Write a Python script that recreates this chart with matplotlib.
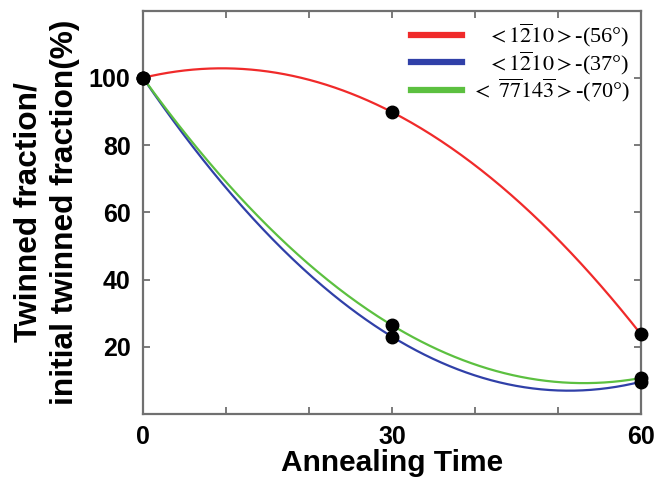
import numpy as np
import matplotlib
matplotlib.use("Agg")
import matplotlib.pyplot as plt
from matplotlib.lines import Line2D

# ---- data ----
time_pts = [0, 30, 60]
red_vals = [100, 89.8, 23.7]
blue_vals = [100, 23.0, 9.6]
green_vals = [100, 26.4, 10.7]
labels = [r'$\quad<1\overline{2}10>$-(56°)',
          r'$\quad<1\overline{2}10>$-(37°)',
          r'$<\ \overline{7}\overline{7}14\overline{3}>$-(70°)']
colors = ['#f02a2a', '#3040a8', '#5cc040']
xticks_major = [0, 30, 60]
xticks_minor = [10, 20, 40, 50]
yticks = [20, 40, 60, 80, 100]

plt.rcParams['font.family'] = ['Liberation Sans', 'DejaVu Sans']
plt.rcParams['mathtext.fontset'] = 'stix'

fig = plt.figure(figsize=(6.57, 4.8), dpi=100)
ax = fig.add_axes([0.2177, 0.1375, 0.9756 - 0.2177, 0.978 - 0.1375])

xs = np.linspace(0, 60, 300)
series = [red_vals, blue_vals, green_vals]
order = [0, 1, 2]
for i in order:
    coef = np.polyfit(time_pts, series[i], 2)
    ax.plot(xs, np.polyval(coef, xs), color=colors[i], lw=1.6, zorder=2)
for i in order:
    ax.plot(time_pts, series[i], 'o', color='black', ms=9, zorder=5, clip_on=False)

ax.set_xlim(0, 60)
ax.set_ylim(0, 120)
ax.set_xticks(xticks_major)
ax.set_xticks(xticks_minor, minor=True)
ax.set_yticks(yticks)
ax.tick_params(which='both', direction='in', top=True, right=True, length=5,
               width=1.3, color='#707070', pad=9)
ax.tick_params(axis='x', which='both', pad=8)
for lab in ax.get_xticklabels() + ax.get_yticklabels():
    lab.set_fontsize(18)
    lab.set_fontweight('bold')
for s in ax.spines.values():
    s.set_color('#707070')
    s.set_linewidth(1.6)

ax.set_xlabel('Annealing Time', fontsize=21.5, fontweight='bold', labelpad=0)
ax.set_ylabel('Twinned fraction/\ninitial twinned fraction(%)', fontsize=22.8,
              fontweight='bold', labelpad=6, linespacing=1.3)

handles = [Line2D([], [], color=c, lw=4.5) for c in colors]
leg = ax.legend(handles, labels, loc='upper right', frameon=False,
                prop={'family': 'Liberation Serif', 'size': 16},
                handlelength=2.3, handletextpad=0.4, labelspacing=0.0,
                borderaxespad=0.1, bbox_to_anchor=(1.0, 1.0))

fig.savefig('out.png', dpi=100)
